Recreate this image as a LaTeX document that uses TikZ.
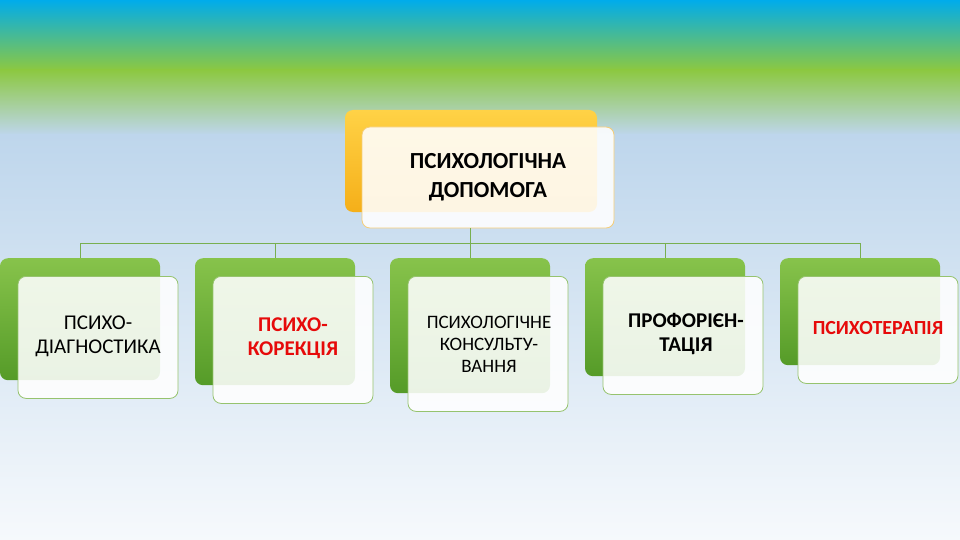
\documentclass[tikz,border=0pt]{standalone}
\usepackage{fontspec}
\setmainfont{Carlito}
\definecolor{skyA}{RGB}{0,172,235}
\definecolor{grnA}{RGB}{140,200,65}
\definecolor{lblue}{RGB}{190,214,236}
\definecolor{botw}{RGB}{246,249,252}
\definecolor{gtop}{RGB}{135,195,75}
\definecolor{gbot}{RGB}{85,155,40}
\definecolor{otop}{RGB}{255,210,70}
\definecolor{obot}{RGB}{245,175,25}
\definecolor{fbord}{RGB}{150,195,110}
\definecolor{obord}{RGB}{245,205,120}
\definecolor{lnc}{RGB}{120,175,80}
\definecolor{redt}{RGB}{230,10,10}
\tikzset{
 back/.style={rounded corners=8pt,top color=gtop,bottom color=gbot,draw=none},
 front/.style={rounded corners=8pt,fill=white,fill opacity=0.88,text opacity=1,draw=fbord,line width=0.8pt},
 lbl/.style={align=center,font=\fontsize{21}{24}\selectfont},
 conn/.style={draw=lnc,line width=0.7pt}
}
\begin{document}
\begin{tikzpicture}[x=1pt,y=-1pt]
\useasboundingbox (0,0) rectangle (960,540);
\shade[top color=skyA,bottom color=grnA] (0,0) rectangle (960,70);
\shade[top color=grnA,bottom color=lblue] (0,70) rectangle (960,135);
\shade[top color=lblue,bottom color=botw] (0,135) rectangle (960,540);
% top
\node[rounded corners=8pt,top color=otop,bottom color=obot,minimum width=252pt,minimum height=102pt] (tb) at (471,161) {};
\node[front,draw=obord,minimum width=252pt,minimum height=101pt] (tf) at (488,177.5) {};
\node[lbl,font=\fontsize{23}{29}\selectfont\bfseries] (tt) at (488,177) {ПСИХОЛОГІЧНА\\ДОПОМОГА};
% boxes
\foreach \i/\x/\h in {1/80/122,2/275/127,3/470/135,4/665/118,5/860/107}{
 \node[back,minimum width=160pt,minimum height=\h pt,anchor=north] (b\i) at (\x,258) {};
 \node[front,minimum width=160pt,minimum height=\h pt,anchor=north] (f\i) at (\x+18,276) {};
 \coordinate (c\i) at (\x,243);
}
\node[lbl] (t1) at (98,336) {ПСИХО-\\ДІАГНОСТИКА};
\node[lbl,font=\fontsize{21}{24}\selectfont\bfseries,text=redt] (t2) at (293,338) {ПСИХО-\\КОРЕКЦІЯ};
\node[lbl,font=\fontsize{19}{22}\selectfont] (t3) at (489,344) {ПСИХОЛОГІЧНЕ\\КОНСУЛЬТУ-\\ВАННЯ};
\node[lbl,font=\fontsize{21}{24}\selectfont\bfseries] (t4) at (686,334) {ПРОФОРІЄН-\\ТАЦІЯ};
\node[lbl,font=\fontsize{20}{24}\selectfont\bfseries,text=redt] (t5) at (878,328) {ПСИХОТЕРАПІЯ};
\coordinate (tj) at (470,243);
\draw[conn] (470,228) -- (tj);
\draw[conn] (c1) -- (c5);
\foreach \i in {1,...,5}{\draw[conn] (c\i) -- (b\i.north);}
\end{tikzpicture}
\end{document}
